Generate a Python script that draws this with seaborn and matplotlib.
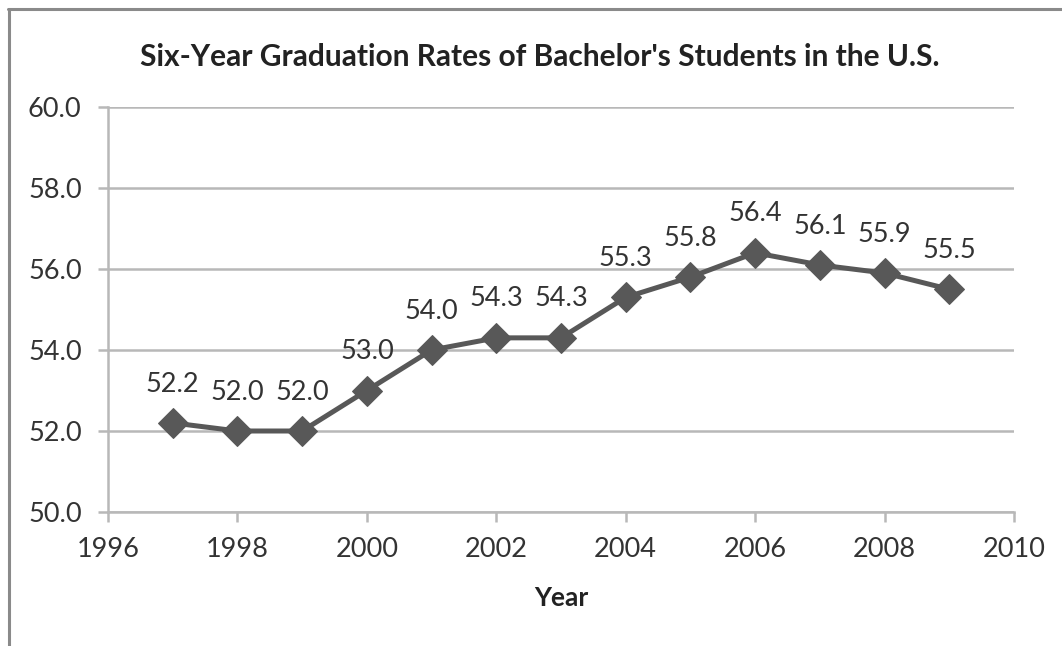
import matplotlib
matplotlib.use("Agg")
import matplotlib.pyplot as plt
from matplotlib.lines import Line2D
import seaborn as sns
import pandas as pd

years = [1997, 1998, 1999, 2000, 2001, 2002, 2003, 2004, 2005, 2006, 2007, 2008, 2009]
rates = [52.2, 52.0, 52.0, 53.0, 54.0, 54.3, 54.3, 55.3, 55.8, 56.4, 56.1, 55.9, 55.5]
x_ticks = [1996, 1998, 2000, 2002, 2004, 2006, 2008, 2010]
y_ticks = [50.0, 52.0, 54.0, 56.0, 58.0, 60.0]
title = "Six-Year Graduation Rates of Bachelor's Students in the U.S."
x_label = "Year"

df = pd.DataFrame({"Year": years, "Rate": rates})

sns.set_theme(style="white")
plt.rcParams["font.family"] = ["Lato", "DejaVu Sans"]

fig = plt.figure(figsize=(10.62, 6.46), dpi=100)
ax = fig.add_axes([108 / 1062, 1 - 512 / 646, (1014 - 108) / 1062, (512 - 107) / 646])

line_col = "#585858"
sns.lineplot(data=df, x="Year", y="Rate", ax=ax, color=line_col, linewidth=3.6,
             marker="D", markersize=15, markeredgecolor=line_col, markerfacecolor=line_col)

for yr, r in zip(years, rates):
    ax.annotate(f"{r:.1f}", (yr, r), xytext=(0, 28), textcoords="offset points",
                ha="center", va="center", fontsize=19.5, color="#333333")

ax.set_xlim(1996, 2010)
ax.set_ylim(50, 60)
ax.set_xticks(x_ticks)
ax.set_yticks(y_ticks)
ax.set_yticklabels([f"{v:.1f}" for v in y_ticks])
ax.yaxis.grid(True, color="#b8b8b8", linewidth=1.8)
ax.xaxis.grid(False)

for side in ["top", "right"]:
    ax.spines[side].set_visible(False)
for side in ["left", "bottom"]:
    ax.spines[side].set_color("#b8b8b8")
    ax.spines[side].set_linewidth(1.8)

ax.tick_params(axis="both", which="major", direction="out", length=7, width=1.8,
               color="#b8b8b8", labelsize=19.5, labelcolor="#333333")
ax.tick_params(axis="x", bottom=True, pad=11)
ax.tick_params(axis="y", left=True, pad=12)

ax.set_xlabel(x_label, fontsize=19, fontweight="bold", color="#222222", labelpad=17)
ax.set_ylabel("")
fig.text(0.5085, 1 - 57 / 646, title, ha="center", va="center",
         fontsize=21.5, fontweight="bold", color="#222222")

# outer frame lines along the top and left edges
fig.add_artist(Line2D([8 / 1062, 1.0], [1 - 9 / 646, 1 - 9 / 646], color="#8a8a8a",
                      linewidth=2.2, transform=fig.transFigure))
fig.add_artist(Line2D([9 / 1062, 9 / 1062], [0.0, 1 - 9 / 646], color="#8a8a8a",
                      linewidth=2.2, transform=fig.transFigure))

fig.savefig("out.png", dpi=100, facecolor="white")
